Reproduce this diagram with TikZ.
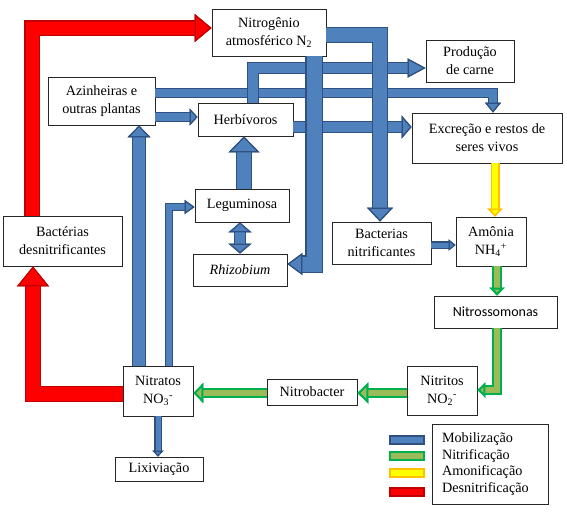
\documentclass[tikz,border=0pt]{standalone}
\usepackage{fontspec}
\setmainfont{Liberation Serif}
\newfontfamily\carlito{Carlito}
\usetikzlibrary{arrows.meta}
\definecolor{mobfill}{HTML}{4F81BD}
\definecolor{mobline}{HTML}{2F5080}
\definecolor{nitfill}{HTML}{9BBB59}
\definecolor{nitline}{HTML}{00B050}
\definecolor{amofill}{HTML}{FFFF00}
\definecolor{amoline}{HTML}{FFC000}
\definecolor{desfill}{HTML}{FF0000}
\definecolor{desline}{HTML}{C00000}
\tikzset{
  box/.style={draw=black!85, fill=white, line width=0.8pt, inner sep=0pt, align=center,
    font=\fontsize{14.2}{18}\selectfont},
  flow/.style n args={7}{draw=#1, line width=#3,
    >={Triangle[length=#5,width=#4,fill=#1,color=#2,line width=#7]}, #6,
    preaction={draw=#2, line width=#3+2*#7, >={Triangle[length=#5,width=#4,line width=#7]}, #6}},
  mob/.style n args={4}{flow={mobfill}{mobline}{#1}{#2}{#3}{#4}{1.2pt}},
  nit/.style n args={4}{flow={nitfill}{nitline}{#1}{#2}{#3}{#4}{2pt}},
  amo/.style n args={4}{flow={amofill}{amoline}{#1}{#2}{#3}{#4}{1.5pt}},
  des/.style n args={4}{flow={desfill}{desline}{#1}{#2}{#3}{#4}{1.2pt}},
  swatch/.style={minimum width=34pt, minimum height=8pt, line width=2pt, inner sep=0pt}
}
\begin{document}
\begin{tikzpicture}[x=1pt, y=-1pt]
        \useasboundingbox (0,0) rectangle (567,512);
        %% Boxes
        \node[box, minimum width=114pt, minimum height=47pt] (n2) at (269,32.5) {Nitrogênio\\atmosférico N\textsubscript{2}};
        \node[box, minimum width=107pt, minimum height=48pt] (azin) at (101.5,101) {Azinheiras e\\outras plantas};
        \node[box, minimum width=95pt, minimum height=33pt] (herb) at (245.5,119.5) {Herbívoros};
        \node[box, minimum width=88pt, minimum height=42pt] (prod) at (470,61) {Produção\\de carne};
        \node[box, minimum width=150pt, minimum height=50pt] (excr) at (487,138) {Excreção e restos de\\seres vivos};
        \node[box, minimum width=94pt, minimum height=33pt] (legu) at (242,205.5) {Leguminosa};
        \node[box, minimum width=119pt, minimum height=50pt] (bdes) at (62.5,241) {Bactérias\\desnitrificantes};
        \node[box, minimum width=94pt, minimum height=32pt] (rhiz) at (240,270) {\textit{Rhizobium}};
        \node[box, minimum width=99pt, minimum height=42pt] (bnit) at (381.5,243) {Bacterias\\nitrificantes};
        \node[box, minimum width=70pt, minimum height=49pt] (amon) at (491,241.5) {Amônia\\NH\textsubscript{4}\textsuperscript{+}};
        \node[box, minimum width=123pt, minimum height=32pt, font=\carlito\fontsize{14}{17}\selectfont] (nitros) at (495.5,312) {Nitrossomonas};
        \node[box, minimum width=70pt, minimum height=49pt] (nitri) at (442,390.5) {Nitritos\\NO\textsubscript{2}\textsuperscript{-}};
        \node[box, minimum width=90pt, minimum height=26pt] (nitrob) at (312,392) {Nitrobacter};
        \node[box, minimum width=70pt, minimum height=50pt] (nitra) at (158,391) {Nitratos\\NO\textsubscript{3}\textsuperscript{-}};
        \node[box, minimum width=88pt, minimum height=24pt] (lixi) at (159,469) {Lixiviação};
        %% Channels
        \coordinate (redA) at (32,28);
        \coordinate (redB) at (33,394);
        \coordinate (mobA) at (139,0);
        \coordinate (mobB) at (169,207);
        \coordinate (mobC) at (240,0);
        \coordinate (mobD) at (244,0);
        \coordinate (mobE) at (0,117);
        \coordinate (mobF) at (493,93);
        \coordinate (mobG) at (253,68);
        \coordinate (mobH) at (0,127);
        \coordinate (mobI) at (380,35);
        \coordinate (mobJ) at (314,264);
        \coordinate (mobK) at (0,245);
        \coordinate (nitA) at (497,390);
        \coordinate (nitC) at (0,393);
        \coordinate (amoA) at (495,0);
        %% Desnitrificação
        \draw[des={13pt}{28pt}{17pt}{->}] (bdes.north -| redA) |- (n2.west |- redA);
        \draw[des={14pt}{32pt}{20pt}{->}] (nitra.west |- redB) -| (bdes.south -| redB);
        %% Mobilização
        \draw[mob={8pt}{16pt}{10pt}{->}] (azin.east |- mobF) -| (excr.north -| mobF);
        \draw[mob={10pt}{19pt}{18pt}{->}] (herb.north -| mobG) |- (prod.west |- mobG);
        \draw[mob={10pt}{23pt}{10pt}{->}] (herb.east |- mobH) -- (excr.west |- mobH);
        \draw[mob={14pt}{26pt}{14pt}{->}] (n2.east |- mobI) -| (bnit.north -| mobI);
        \draw[mob={15pt}{22pt}{15pt}{->}] (n2.south -| mobJ) |- (rhiz.east |- mobJ);
        \draw[mob={12pt}{23pt}{12pt}{->}] (nitra.north -| mobA) -- (azin.south -| mobA);
        \draw[mob={6pt}{14pt}{10pt}{->}] (nitra.north -| mobB) |- (legu.west |- mobB);
        \draw[mob={10pt}{23pt}{10pt}{<->}] (legu.south -| mobC) -- (rhiz.north -| mobC);
        \draw[mob={14pt}{31pt}{16pt}{->}] (legu.north -| mobD) -- (herb.south -| mobD);
        \draw[mob={8pt}{17pt}{8pt}{->}] (azin.east |- mobE) -- (herb.west |- mobE);
        \draw[mob={5pt}{11pt}{7pt}{->}] (bnit.east |- mobK) -- (amon.west |- mobK);
        \draw[mob={5pt}{11pt}{6pt}{->}] (nitra.south) -- (lixi.north -| nitra.south);
        %% Amonificação
        \draw[amo={6pt}{15pt}{8pt}{->}] (excr.south -| amoA) -- (amon.north -| amoA);
        %% Nitrificação
        \draw[nit={6pt}{15pt}{8pt}{->}] (amon.south -| nitA) -- (nitros.north -| nitA);
        \draw[nit={6pt}{15pt}{8pt}{->}] (nitros.south -| nitA) |- (nitri.east |- nitA);
        \draw[nit={6pt}{21pt}{11pt}{->}] (nitri.west |- nitC) -- (nitrob.east |- nitC);
        \draw[nit={6pt}{20pt}{10pt}{->}] (nitrob.west |- nitC) -- (nitra.east |- nitC);
        %% Legend
        \node[box, text width=96pt, inner xsep=10pt, minimum height=80pt, align=left,
          font=\fontsize{14.2}{16.5}\selectfont] (key) at (490,464)
          {Mobilização\\Nitrificação\\Amonificação\\Desnitrificação};
        \node[swatch, draw=mobline, fill=mobfill] (keymob) at (407,440) {};
        \node[swatch, draw=nitline, fill=nitfill] (keynit) at (407,456) {};
        \node[swatch, draw=amoline, fill=amofill] (keyamo) at (407,472.5) {};
        \node[swatch, draw=desline, fill=desfill] (keydes) at (407,492) {};
    \end{tikzpicture}
\end{document}
